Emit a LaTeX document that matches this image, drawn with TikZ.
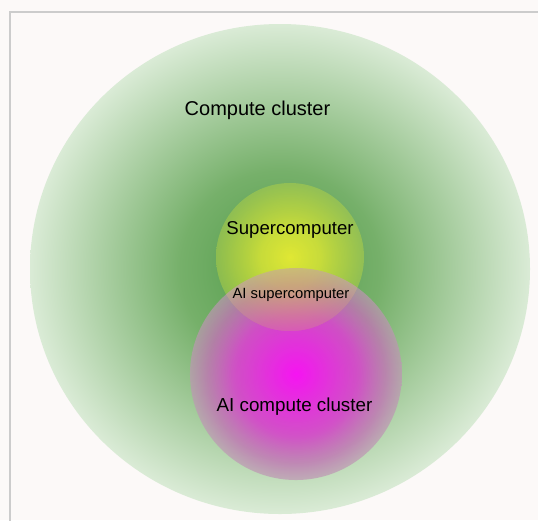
\documentclass[tikz,border=0pt]{standalone}
\usepackage{fontspec}
\setmainfont{Liberation Sans}
\usetikzlibrary{fadings}
\definecolor{bgcol}{HTML}{FCF9F8}
\definecolor{framecol}{HTML}{CCCCCC}
\pgfdeclareradialshading{greensh}{\pgfpoint{0bp}{0bp}}{%
  color(0bp)=(rgb,255:red,80;green,155;blue,72);
  color(10bp)=(rgb,255:red,118;green,176;blue,106);
  color(25bp)=(rgb,255:red,218;green,235;blue,214);
  color(50bp)=(rgb,255:red,218;green,235;blue,214)}
\pgfdeclareradialshading{yelsh}{\pgfpoint{0bp}{0bp}}{%
  color(0bp)=(rgb,255:red,224;green,232;blue,52);
  color(25bp)=(rgb,255:red,200;green,222;blue,60);
  color(50bp)=(rgb,255:red,200;green,222;blue,60)}
\pgfdeclareradialshading{magsh}{\pgfpoint{0bp}{0bp}}{%
  color(0bp)=(rgb,255:red,246;green,20;blue,242);
  color(14bp)=(rgb,255:red,214;green,72;blue,204);
  color(21bp)=(rgb,255:red,194;green,116;blue,182);
  color(25bp)=(rgb,255:red,190;green,150;blue,180);
  color(50bp)=(rgb,255:red,190;green,150;blue,180)}
\pgfdeclareradialshading{yfadesh}{\pgfpoint{0bp}{0bp}}{%
  color(0bp)=(white);
  color(10bp)=(white!88!black);
  color(19bp)=(white!60!black);
  color(25bp)=(white!38!black);
  color(50bp)=(white!38!black)}
\pgfdeclareradialshading{mfadesh}{\pgfpoint{0bp}{0bp}}{%
  color(0bp)=(white);
  color(15bp)=(white!94!black);
  color(25bp)=(white!68!black);
  color(50bp)=(white!68!black)}
\tikzfading[name=yfade, shading=yfadesh]
\tikzfading[name=mfade, shading=mfadesh]
\tikzset{
  lbl/.style={anchor=base, inner sep=0pt, text=black},
}
\begin{document}
\begin{tikzpicture}[x=1pt,y=-1pt]
\useasboundingbox (0,0) rectangle (538,520);
\fill[bgcol] (0,0) rectangle (538,520);
\draw[framecol, line width=2pt] (10,525) -- (10,11.5) -- (545,11.5);
\coordinate (gc) at (280,269);
\coordinate (mc) at (296,374);
\coordinate (yc) at (290,257);
% compute cluster
\shade[shading=greensh] (gc) ellipse [x radius=250, y radius=245];
% AI compute cluster
\shade[shading=magsh, path fading=mfade] (mc) circle [radius=106];
% supercomputer
\shade[shading=yelsh, path fading=yfade] (yc) circle [radius=74];
% overlap tint (AI supercomputer)
\begin{scope}
  \clip (yc) circle [radius=74];
  \shade[shading=magsh, fill opacity=0.5] (mc) circle [radius=106];
\end{scope}
\node[lbl, font=\fontsize{20}{24}\selectfont] (cc) at (257.5,115) {Compute cluster};
\node[lbl, font=\fontsize{18.6}{22}\selectfont] (sc) at (290,234) {Supercomputer};
\node[lbl, font=\fontsize{14.8}{18}\selectfont] (asc) at (291,298.5) {AI supercomputer};
\node[lbl, font=\fontsize{18.8}{22}\selectfont] (acc) at (294.5,411) {AI compute cluster};
\end{tikzpicture}
\end{document}
